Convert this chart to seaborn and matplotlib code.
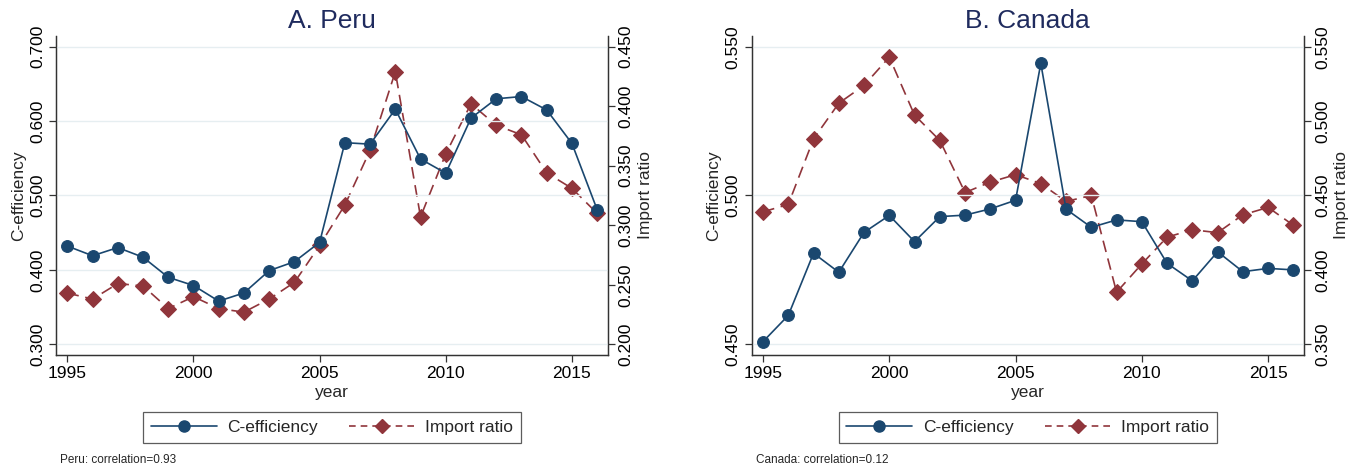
import numpy as np
import pandas as pd
import matplotlib
matplotlib.use("Agg")
import matplotlib.pyplot as plt
from matplotlib.lines import Line2D
import seaborn as sns

sns.set_theme(style="white")
plt.rcParams["font.family"] = ["Liberation Sans", "DejaVu Sans"]

years = list(range(1995, 2017))

peru_ceff = [0.432, 0.419, 0.430, 0.417, 0.390, 0.379, 0.358, 0.369, 0.399, 0.411,
             0.437, 0.571, 0.569, 0.616, 0.549, 0.530, 0.604, 0.630, 0.633, 0.615,
             0.570, 0.481]
peru_import = [0.243, 0.238, 0.251, 0.249, 0.230, 0.240, 0.230, 0.227, 0.238, 0.252,
               0.283, 0.317, 0.363, 0.429, 0.307, 0.360, 0.402, 0.384, 0.376, 0.344,
               0.331, 0.310]

canada_ceff = [0.4509, 0.4597, 0.4806, 0.4742, 0.4876, 0.4933, 0.4845, 0.4929, 0.4934,
               0.4955, 0.4984, 0.5444, 0.4954, 0.4893, 0.4918, 0.4912, 0.4772, 0.4713,
               0.4811, 0.4744, 0.4755, 0.4750]
canada_import = [0.439, 0.444, 0.488, 0.512, 0.524, 0.543, 0.504, 0.487, 0.452, 0.459,
                 0.464, 0.458, 0.446, 0.450, 0.385, 0.404, 0.422, 0.427, 0.425, 0.437,
                 0.442, 0.430]

panel_titles = ["A. Peru", "B. Canada"]
notes = ["Peru: correlation=0.93", "Canada: correlation=0.12"]
left_ticks = [[0.3, 0.4, 0.5, 0.6, 0.7], [0.45, 0.50, 0.55]]
right_ticks = [[0.20, 0.25, 0.30, 0.35, 0.40, 0.45], [0.35, 0.40, 0.45, 0.50, 0.55]]
left_lims = [(0.2856, 0.7144), (0.4464, 0.5536)]
right_lims = [(0.1910, 0.4590), (0.3428, 0.5572)]
x_ticks = [1995, 2000, 2005, 2010, 2015]

NAVY = "#1a476f"
RED = "#90353b"
GRID = "#e6eef1"
TITLE_C = "#1f2b5e"
LABEL_SIZE = 12.5

fig = plt.figure(figsize=(13.59, 4.71), dpi=100)
positions = [[0.0412, 0.2463, 0.4060, 0.6773], [0.5531, 0.2463, 0.4064, 0.6773]]

series = [(peru_ceff, peru_import), (canada_ceff, canada_import)]

for i, (ceff, imp) in enumerate(series):
    df = pd.DataFrame({"year": years, "C-efficiency": ceff, "Import ratio": imp})
    ax = fig.add_axes(positions[i])
    ax2 = ax.twinx()

    for y in left_ticks[i]:
        ax.axhline(y, color=GRID, lw=1.0, zorder=0)

    sns.lineplot(data=df, x="year", y="C-efficiency", ax=ax, color=NAVY,
                 marker="o", markersize=8.5, markeredgecolor=NAVY, lw=1.2,
                 zorder=3)
    sns.lineplot(data=df, x="year", y="Import ratio", ax=ax2, color=RED,
                 marker="D", markersize=8, markeredgecolor=RED, lw=1.2,
                 linestyle=(0, (7, 4)), zorder=3)

    ax.set_xlim(1994.55, 2016.42)
    ax.set_ylim(*left_lims[i])
    ax2.set_ylim(*right_lims[i])
    ax.set_xticks(x_ticks)
    ax.set_yticks(left_ticks[i])
    ax2.set_yticks(right_ticks[i])
    ax.set_yticklabels([f"{v:.3f}" for v in left_ticks[i]], rotation=90, va="center")
    ax2.set_yticklabels([f"{v:.3f}" for v in right_ticks[i]], rotation=90, va="center")

    for a in (ax, ax2):
        a.spines["top"].set_visible(False)
        for s in ("left", "right", "bottom"):
            a.spines[s].set_color("#333333")
            a.spines[s].set_linewidth(0.9)
        a.tick_params(axis="both", which="both", direction="out", length=5,
                      width=0.9, color="#333333", labelsize=LABEL_SIZE,
                      labelcolor="black", pad=3)
    ax.tick_params(axis="both", left=True, bottom=True)
    ax2.tick_params(axis="y", right=True)
    ax.grid(False)
    ax2.grid(False)

    ax.set_xlabel("year", fontsize=LABEL_SIZE, labelpad=3)
    ax.set_ylabel("C-efficiency", fontsize=LABEL_SIZE, labelpad=3)
    ax2.set_ylabel("Import ratio", fontsize=LABEL_SIZE, labelpad=3)
    ax.set_title(panel_titles[i], fontsize=19, color=TITLE_C, pad=6)
    ax.set_zorder(ax2.get_zorder() + 1)
    ax.patch.set_visible(False)

    handles = [
        Line2D([], [], color=NAVY, marker="o", markersize=8, lw=1.2),
        Line2D([], [], color=RED, marker="D", markersize=7, lw=1.2,
               linestyle=(0, (4, 3))),
    ]
    cx = positions[i][0] + positions[i][2] / 2
    leg = fig.legend(handles, ["C-efficiency", "Import ratio"], loc="center",
                     bbox_to_anchor=(cx, 0.092), ncol=2, frameon=True,
                     fancybox=False, edgecolor="#333333", fontsize=LABEL_SIZE,
                     handlelength=3.8, columnspacing=1.8, handletextpad=0.6,
                     borderpad=0.45)
    leg.get_frame().set_linewidth(0.9)

    fig.text(positions[i][0] + 0.003, 0.023, notes[i], fontsize=8.5, ha="left", va="center")

fig.savefig("out.png", dpi=100)
